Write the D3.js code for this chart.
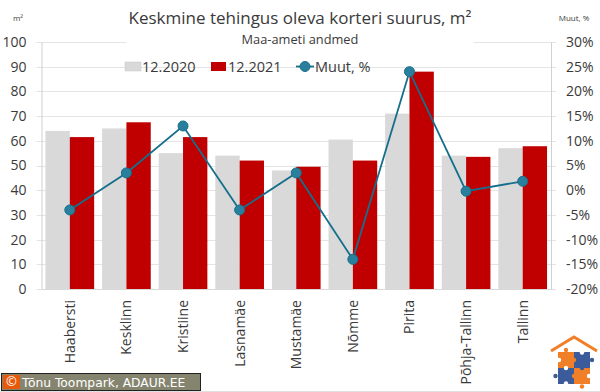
<!DOCTYPE html>
<html>
<head>
<meta charset="utf-8">
<script src="https://cdn.jsdelivr.net/npm/d3@7"></script>
<style>
html, body { margin: 0; padding: 0; background: #fff; }
text { font-family: "Open Sans", sans-serif; fill: #3a3a3a; }
</style>
</head>
<body>
<div id="container"></div>
<script>
var categories = ['Haabersti', 'Kesklinn', 'Kristiine', 'Lasnamäe', 'Mustamäe', 'Nõmme', 'Pirita', 'Põhja-Tallinn', 'Tallinn'];
var values2020 = [64, 65, 55, 54, 48, 60.5, 71, 54, 57];
var values2021 = [61.5, 67.5, 61.5, 52, 49.5, 52, 88, 53.5, 57.8];
var change = [-4, 3.5, 13, -4, 3.5, -14, 24, -0.2, 1.8];
var leftTicks = [0, 10, 20, 30, 40, 50, 60, 70, 80, 90, 100];
var rightTicks = [-20, -15, -10, -5, 0, 5, 10, 15, 20, 25, 30];

var width = 600,
    height = 392,
    plotLeft = 41.5,
    plotRight = 551,
    plotTop = 42,
    plotBottom = 289,
    gray = '#d9d9d9',
    red = '#c00000',
    teal = '#156f8c',
    dot = '#2a7f9c',
    orange = '#f07f28',
    blue = '#3b5b9a';

var svg = d3.select('#container').append('svg')
    .attr('width', width)
    .attr('height', height)
    .style('display', 'block');

// thin frame of the picture
svg.append('line').attr('x1', 0).attr('x2', width).attr('y1', 391.5).attr('y2', 391.5).attr('stroke', '#e0e0e0');

var x = d3.scaleBand().domain(categories).range([plotLeft, plotRight]).paddingInner(0.14).paddingOuter(0.07);
var sub = d3.scaleBand().domain(['a', 'b']).range([0, x.bandwidth()]);
var y = d3.scaleLinear().domain([0, 100]).range([plotBottom, plotTop]);
var y2 = d3.scaleLinear().domain([-20, 30]).range([plotBottom, plotTop]);

// grid
svg.append('g').selectAll('line')
    .data(leftTicks)
    .join('line')
    .attr('x1', plotLeft - 5)
    .attr('x2', plotRight + 5)
    .attr('y1', function(d) { return Math.round(y(d)) + 0.5; })
    .attr('y2', function(d) { return Math.round(y(d)) + 0.5; })
    .attr('stroke', '#e4e4e4');

// white box behind the subtitle
svg.append('rect').attr('x', 126).attr('y', 30).attr('width', 348).attr('height', 24).attr('fill', '#fff');

// bars
svg.append('g').selectAll('rect')
    .data(categories)
    .join('rect')
    .attr('x', function(d) { return x(d) + sub('a'); })
    .attr('width', sub.bandwidth())
    .attr('y', function(d, i) { return y(values2020[i]); })
    .attr('height', function(d, i) { return plotBottom - y(values2020[i]); })
    .attr('fill', gray);

svg.append('g').selectAll('rect')
    .data(categories)
    .join('rect')
    .attr('x', function(d) { return x(d) + sub('b'); })
    .attr('width', sub.bandwidth())
    .attr('y', function(d, i) { return y(values2021[i]); })
    .attr('height', function(d, i) { return plotBottom - y(values2021[i]); })
    .attr('fill', red);

// axes
function styleAxis(g) {
    g.selectAll('.domain').attr('stroke', '#d0d0d0');
    g.selectAll('text').style('font-size', '14px');
}

svg.append('g')
    .attr('transform', 'translate(' + plotLeft + ',0)')
    .call(d3.axisLeft(y).tickValues(leftTicks).tickSize(0).tickPadding(15))
    .call(styleAxis);

svg.append('g')
    .attr('transform', 'translate(' + plotRight + ',0)')
    .call(d3.axisRight(y2).tickValues(rightTicks).tickSize(0).tickPadding(15).tickFormat(function(d) { return d + '%'; }))
    .call(styleAxis);

var xAxis = svg.append('g')
    .attr('transform', 'translate(0,' + plotBottom + ')')
    .call(d3.axisBottom(x).tickSize(0));
xAxis.select('.domain').attr('stroke', '#d9d9d9');
xAxis.selectAll('text')
    .style('font-size', '14px')
    .attr('text-anchor', 'end')
    .attr('dy', 0)
    .attr('x', 0)
    .attr('y', 0)
    .attr('transform', 'translate(5,11) rotate(-90)');

// change line
var line = d3.line()
    .x(function(d, i) { return x(categories[i]) + x.bandwidth() / 2; })
    .y(function(d) { return y2(d); });

svg.append('path')
    .datum(change)
    .attr('d', line)
    .attr('fill', 'none')
    .attr('stroke', teal)
    .attr('stroke-width', 1.8);

svg.append('g').selectAll('circle')
    .data(change)
    .join('circle')
    .attr('cx', function(d, i) { return x(categories[i]) + x.bandwidth() / 2; })
    .attr('cy', function(d) { return y2(d); })
    .attr('r', 5)
    .attr('fill', dot)
    .attr('stroke', teal);

// titles
svg.append('text').attr('x', 300).attr('y', 24).attr('text-anchor', 'middle')
    .style('font-size', '17px').text('Keskmine tehingus oleva korteri suurus, m²');
svg.append('text').attr('x', 300).attr('y', 44).attr('text-anchor', 'middle')
    .style('font-size', '12.8px').text('Maa-ameti andmed');
svg.append('text').attr('x', 18).attr('y', 21).attr('text-anchor', 'middle')
    .style('font-size', '8px').text('m²');
svg.append('text').attr('x', 574).attr('y', 21).attr('text-anchor', 'middle')
    .style('font-size', '8px').text('Muut, %');

// legend
var legend = svg.append('g');
legend.append('rect').attr('x', 125).attr('y', 62).attr('width', 16).attr('height', 9).attr('fill', gray).attr('stroke', '#c8c8c8').attr('stroke-width', 0.5);
legend.append('text').attr('x', 142).attr('y', 72).style('font-size', '14.5px').text('12.2020');
legend.append('rect').attr('x', 211).attr('y', 62).attr('width', 15).attr('height', 9).attr('fill', red);
legend.append('text').attr('x', 228).attr('y', 72).style('font-size', '14.5px').text('12.2021');
legend.append('line').attr('x1', 296).attr('x2', 314).attr('y1', 66.5).attr('y2', 66.5).attr('stroke', teal).attr('stroke-width', 1.8);
legend.append('circle').attr('cx', 305).attr('cy', 66.5).attr('r', 5).attr('fill', dot).attr('stroke', teal);
legend.append('text').attr('x', 315).attr('y', 72).style('font-size', '14.5px').text('Muut, %');

// copyright badge
var badge = svg.append('g');
badge.append('rect').attr('x', 1.5).attr('y', 373.5).attr('width', 199).attr('height', 17).attr('fill', '#85856f').attr('stroke', '#222');
badge.append('rect').attr('x', 3).attr('y', 375).attr('width', 17).attr('height', 14).attr('fill', '#e8590c');
badge.append('text').attr('x', 11.5).attr('y', 386).attr('text-anchor', 'middle').style('font-size', '13px').style('fill', '#fff').text('©');
badge.append('text').attr('x', 22).attr('y', 387).style('font-family', '"DejaVu Sans", sans-serif').style('font-size', '12.3px').style('fill', '#fff').text('Tõnu Toompark, ADAUR.EE');

// logo: roof and four puzzle pieces
var logo = svg.append('g');
logo.append('path').attr('d', 'M551,351 L574,337 L597,351').attr('fill', 'none').attr('stroke', orange).attr('stroke-width', 3);
logo.append('rect').attr('x', 558).attr('y', 352).attr('width', 16).attr('height', 16).attr('fill', orange);
logo.append('rect').attr('x', 574).attr('y', 352).attr('width', 16).attr('height', 16).attr('fill', blue);
logo.append('rect').attr('x', 558).attr('y', 368).attr('width', 16).attr('height', 16).attr('fill', blue);
logo.append('rect').attr('x', 574).attr('y', 368).attr('width', 16).attr('height', 16).attr('fill', orange);
logo.append('circle').attr('cx', 566).attr('cy', 350).attr('r', 2.2).attr('fill', orange);
logo.append('circle').attr('cx', 592).attr('cy', 360).attr('r', 2.2).attr('fill', blue);
logo.append('circle').attr('cx', 555.5).attr('cy', 376).attr('r', 2.2).attr('fill', blue);
logo.append('circle').attr('cx', 582).attr('cy', 386.5).attr('r', 2.2).attr('fill', orange);
logo.append('circle').attr('cx', 582).attr('cy', 352.5).attr('r', 2.2).attr('fill', '#fff');
logo.append('circle').attr('cx', 559).attr('cy', 360).attr('r', 2.2).attr('fill', '#fff');
logo.append('circle').attr('cx', 589).attr('cy', 376).attr('r', 2.2).attr('fill', '#fff');
logo.append('circle').attr('cx', 566).attr('cy', 383.5).attr('r', 2.2).attr('fill', '#fff');
logo.append('circle').attr('cx', 574).attr('cy', 360).attr('r', 2.2).attr('fill', orange);
logo.append('circle').attr('cx', 566).attr('cy', 368).attr('r', 2.2).attr('fill', '#fff');
logo.append('circle').attr('cx', 582).attr('cy', 368).attr('r', 2.2).attr('fill', blue);
logo.append('circle').attr('cx', 574).attr('cy', 376).attr('r', 2.2).attr('fill', orange);
</script>
</body>
</html>
